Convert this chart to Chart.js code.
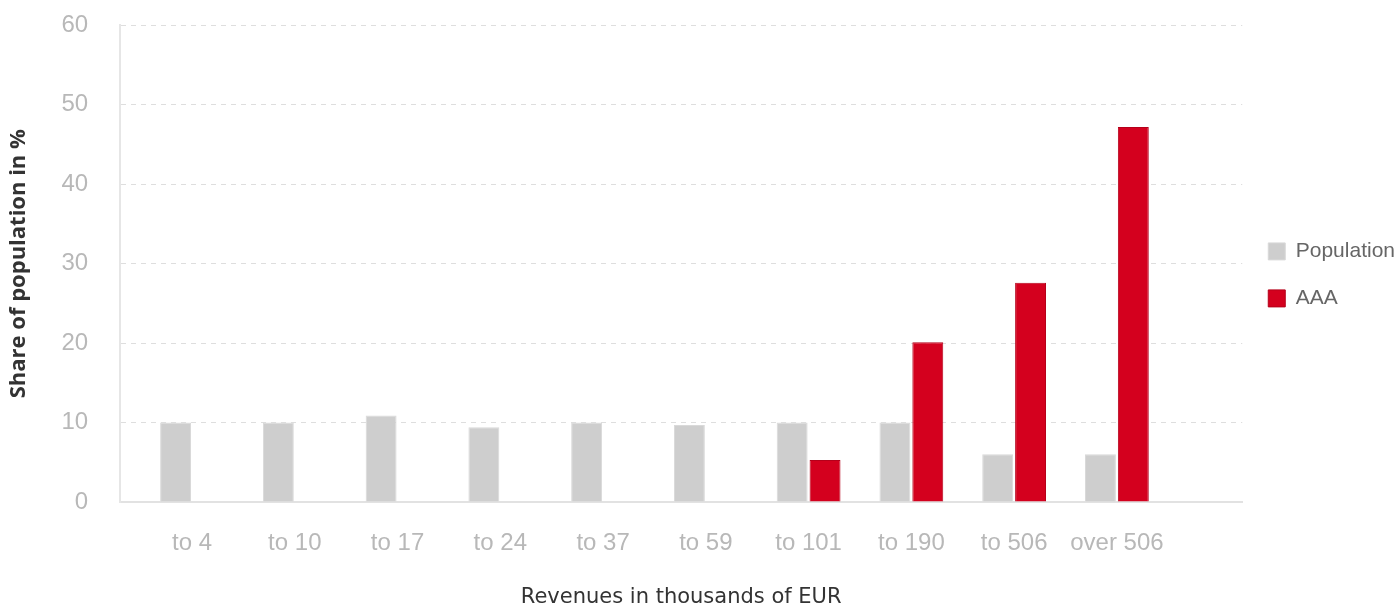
<!DOCTYPE html>
<html>
<head>
<meta charset="utf-8">
<script src="https://cdn.jsdelivr.net/npm/chart.js@4/dist/chart.umd.min.js"></script>
<style>
  html, body { margin: 0; padding: 0; background: #fff; }
  #wrap { width: 1399px; height: 610px; }
</style>
</head>
<body>
<div id="wrap"><canvas id="revenueChart"></canvas></div>
<script>
const categories = ["to 4", "to 10", "to 17", "to 24", "to 37", "to 59", "to 101", "to 190", "to 506", "over 506"];
const population = [10, 10, 10.9, 9.4, 10, 9.7, 10, 10, 6, 6];
const aaa = [null, null, null, null, null, null, 5.3, 20.1, 27.6, 47.2];
const yTicks = [0, 10, 20, 30, 40, 50, 60];

const tickFont = { family: "Liberation Sans", size: 24 };

// x is linear so the axis can run past the last group, like the original
const toPoints = (values) => values.map((v, i) => ({ x: i, y: v }));

const ctx = document.getElementById("revenueChart");

new Chart(ctx, {
  type: "bar",
  data: {
    datasets: [
      {
        label: "Population",
        data: toPoints(population),
        backgroundColor: "#cecece",
        borderColor: "#d9d9d9",
        borderWidth: 1,
      },
      {
        label: "AAA",
        data: toPoints(aaa),
        backgroundColor: "#d4001e",
        borderColor: "#b5001a",
        borderWidth: 1,
      },
    ],
  },
  options: {
    responsive: true,
    maintainAspectRatio: false,
    animation: false,
    categoryPercentage: 0.64,
    barPercentage: 0.94,
    layout: {
      padding: { left: 6, right: -6, top: 0, bottom: 0 },
    },
    plugins: {
      tooltip: { enabled: false },
      legend: {
        position: "right",
        fullSize: false,
        // empty title only nudges the items down a little
        title: {
          display: true,
          text: "",
          font: { size: 12 },
          padding: 4,
        },
        labels: {
          boxWidth: 17,
          boxHeight: 17,
          padding: 26,
          color: "#666",
          font: { family: "Liberation Sans", size: 21 },
        },
      },
    },
    scales: {
      x: {
        type: "linear",
        offset: false,
        min: -0.7,
        max: 10.22,
        afterBuildTicks: (scale) => {
          scale.ticks = categories.map((_, i) => ({ value: i }));
        },
        grid: { display: false, drawTicks: false },
        border: { display: true, color: "#e2e2e2", width: 2 },
        ticks: {
          autoSkip: false,
          maxRotation: 0,
          padding: 27,
          color: "#b8b8b8",
          font: tickFont,
          callback: (v) => categories[v],
        },
        title: {
          display: true,
          text: "Revenues in thousands of EUR",
          color: "#333",
          font: { family: "DejaVu Sans", size: 21 },
          padding: { top: 0, bottom: 0 },
        },
      },
      y: {
        min: 0,
        max: 60,
        afterBuildTicks: (scale) => {
          scale.ticks = yTicks.map((v) => ({ value: v }));
        },
        // long invisible tick marks keep the labels clear of the axis
        grid: {
          color: "#dedede",
          tickLength: 21,
          tickColor: "rgba(0,0,0,0)",
        },
        border: { display: true, color: "#e6e6e6", width: 2, dash: [5, 5] },
        ticks: {
          padding: 11,
          color: "#b8b8b8",
          font: tickFont,
        },
        title: {
          display: true,
          text: "Share of population in %",
          color: "#333",
          font: { family: "Open Sans", size: 22, weight: "bold" },
          padding: { top: 0, bottom: 18 },
        },
      },
    },
  },
});
</script>
</body>
</html>
